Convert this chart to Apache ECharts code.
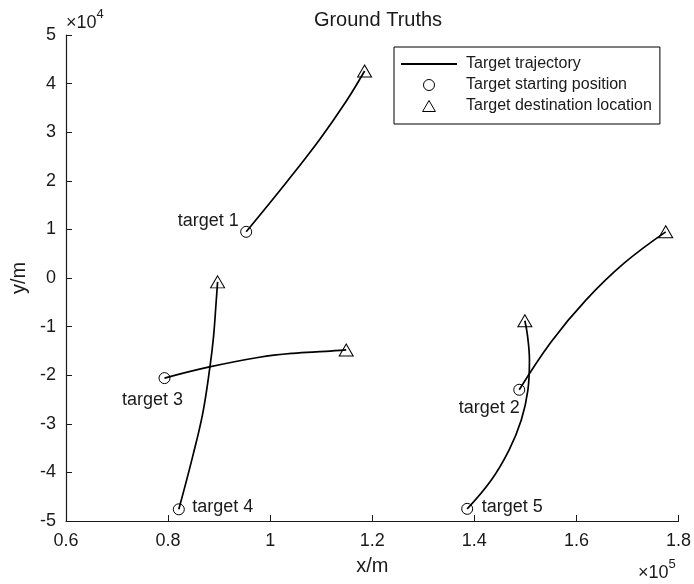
<!DOCTYPE html>
<html>
<head>
<meta charset="utf-8">
<script src="https://cdn.jsdelivr.net/npm/echarts@6/dist/echarts.min.js"></script>
<style>
  html, body { margin: 0; padding: 0; background: #fff; }
  #chart { width: 694px; height: 584px; }
</style>
</head>
<body>
<div id="chart"></div>
<script>
// Target tracks in metres: [x, y] samples from start to destination
const targetNames = ['target 1', 'target 2', 'target 3', 'target 4', 'target 5'];
const track1 = [[95300, 9500], [103200, 19700], [109700, 28500], [114800, 36200], [118500, 42600]];
const track2 = [[148800, -23000], [155000, -13200], [161900, -4500], [169400, 3100], [177500, 9500]];
const track3 = [[79300, -20600], [88100, -18300], [97900, -16300], [104400, -15500], [110900, -15100], [114900, -14800]];
const track4 = [[82100, -47600], [84800, -36800], [86800, -27800], [88200, -18300], [88900, -12100], [89400, -5200], [89700, -800]];
const track5 = [[138600, -47500], [143300, -41600], [146800, -35400], [149200, -29200], [150500, -23000], [150800, -16900], [150400, -11700], [149900, -8800]];
const tracks = [track1, track2, track3, track4, track5];

const xTickLabels = ['0.6', '0.8', '1', '1.2', '1.4', '1.6', '1.8'];
const yTickLabels = ['-5', '-4', '-3', '-2', '-1', '0', '1', '2', '3', '4', '5'];
const legendNames = ['Target trajectory', 'Target starting position', 'Target destination location'];

// Where each target's name sits relative to its starting marker (px)
const nameOffsets = [[-38, -11], [-30, 18], [-12, 22], [44, -2], [45, -2]];

const FONT = "'Liberation Sans', Arial, Helvetica, sans-serif";
const INK = '#1a1a1a';

const chart = echarts.init(document.getElementById('chart'), null, { renderer: 'canvas' });

const lineSeries = tracks.map(t => ({
  name: legendNames[0],
  type: 'line',
  data: t,
  smooth: 0.4,
  symbol: 'none',
  itemStyle: { color: '#000' },
  lineStyle: { color: '#000', width: 1.7 },
  z: 2
}));

const startSeries = {
  name: legendNames[1],
  type: 'scatter',
  symbol: 'circle',
  symbolSize: 11,
  itemStyle: { color: 'rgba(255,255,255,0)', borderColor: '#000', borderWidth: 1, opacity: 1 },
  data: tracks.map((t, i) => ({
    value: t[0],
    label: {
      show: true,
      position: 'inside',
      offset: nameOffsets[i],
      formatter: targetNames[i],
      fontFamily: FONT,
      fontSize: 18,
      color: INK
    }
  })),
  z: 3
};

const endSeries = {
  name: legendNames[2],
  type: 'scatter',
  symbol: 'triangle',
  symbolSize: [14, 12],
  itemStyle: { color: 'rgba(255,255,255,0)', borderColor: '#000', borderWidth: 1, opacity: 1 },
  data: tracks.map(t => t[t.length - 1]),
  z: 3
};

chart.setOption({
  animation: false,
  backgroundColor: '#fff',
  title: {
    text: 'Ground Truths',
    left: 373,
    top: 5,
    textAlign: 'center',
    textStyle: { fontFamily: FONT, fontSize: 20, fontWeight: 'normal', color: INK }
  },
  grid: { left: 66, right: 13, top: 35, bottom: 63, containLabel: false },
  legend: {
    data: [
      { name: legendNames[0], itemStyle: { opacity: 0 } },
      { name: legendNames[1] },
      { name: legendNames[2], icon: 'path://M7,0L14,12L0,12Z' }
    ],
    orient: 'vertical',
    left: 394,
    top: 47,
    width: 267,
    padding: [9, 8, 10, 6],
    itemGap: 5,
    itemWidth: 56,
    itemHeight: 11,
    borderColor: '#000',
    borderWidth: 1,
    backgroundColor: '#fff',
    selectedMode: false,
    itemStyle: { borderWidth: 1 },
    textStyle: { fontFamily: FONT, fontSize: 16, color: INK, lineHeight: 16, padding: [0, 0, 0, 4] }
  },
  xAxis: {
    type: 'value',
    min: 60000,
    max: 180000,
    interval: 20000,
    name: 'x/m',
    nameLocation: 'middle',
    nameGap: 35,
    nameTextStyle: { fontFamily: FONT, fontSize: 20, color: INK },
    splitLine: { show: false },
    axisLine: { onZero: false, lineStyle: { color: INK, width: 1.2 } },
    axisTick: { inside: true, length: 6, lineStyle: { color: INK, width: 1 } },
    axisLabel: {
      margin: 11,
      fontFamily: FONT, fontSize: 18, color: INK,
      formatter: v => xTickLabels[Math.round((v - 60000) / 20000)]
    }
  },
  yAxis: {
    type: 'value',
    min: -50000,
    max: 50000,
    interval: 10000,
    name: 'y/m',
    nameLocation: 'middle',
    nameGap: 24,
    nameRotate: 90,
    nameTextStyle: { fontFamily: FONT, fontSize: 20, color: INK },
    splitLine: { show: false },
    axisLine: { onZero: false, lineStyle: { color: INK, width: 1.2 } },
    axisTick: { inside: true, length: 6, lineStyle: { color: INK, width: 1 } },
    axisLabel: {
      margin: 10,
      fontFamily: FONT, fontSize: 18, color: INK,
      formatter: v => yTickLabels[Math.round((v + 50000) / 10000)]
    }
  },
  graphic: [
    {
      type: 'text',
      left: 66,
      top: 8,
      style: {
        text: '{b|×10}{s|4}',
        rich: {
          b: { fontFamily: FONT, fontSize: 18, fill: INK, verticalAlign: 'bottom', lineHeight: 24 },
          s: { fontFamily: FONT, fontSize: 13, fill: INK, verticalAlign: 'top', lineHeight: 24, padding: [0, 0, 8, 0] }
        }
      }
    },
    {
      type: 'text',
      left: 638,
      top: 558,
      style: {
        text: '{b|×10}{s|5}',
        rich: {
          b: { fontFamily: FONT, fontSize: 18, fill: INK, verticalAlign: 'bottom', lineHeight: 24 },
          s: { fontFamily: FONT, fontSize: 13, fill: INK, verticalAlign: 'top', lineHeight: 24, padding: [0, 0, 8, 0] }
        }
      }
    }
  ],
  series: [...lineSeries, startSeries, endSeries]
});
</script>
</body>
</html>
